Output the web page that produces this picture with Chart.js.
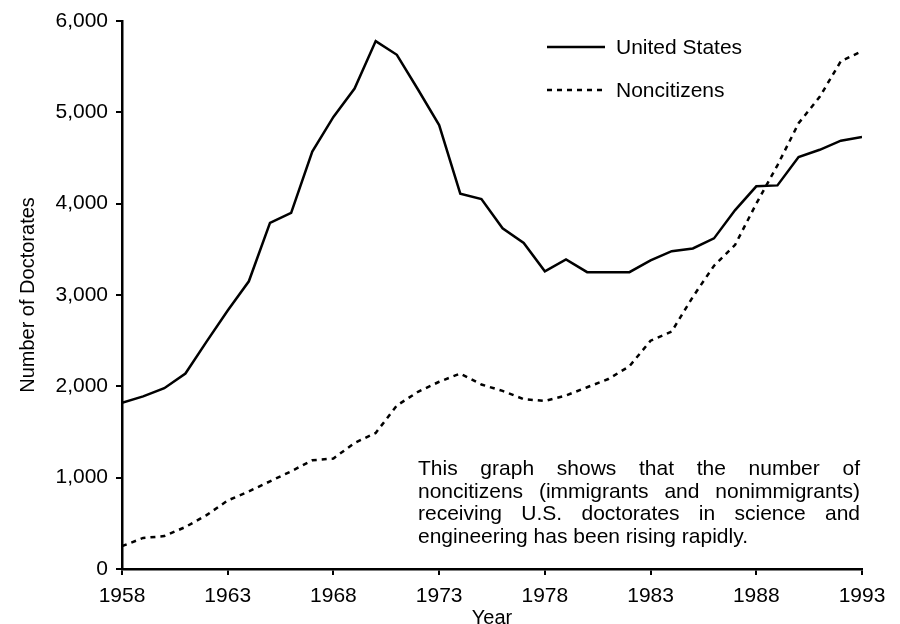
<!DOCTYPE html>
<html>
<head>
<meta charset="utf-8">
<script src="https://cdn.jsdelivr.net/npm/chart.js@4.4.0/dist/chart.umd.min.js"></script>
<style>
  html, body { margin: 0; padding: 0; background: #fff; }
  #wrap { width: 900px; height: 624px; }
</style>
</head>
<body>
<div id="wrap"><canvas id="chart" width="900" height="624"></canvas></div>
<script>
// データ
const years = [
  1958, 1959, 1960, 1961, 1962, 1963, 1964, 1965, 1966, 1967, 1968, 1969,
  1970, 1971, 1972, 1973, 1974, 1975, 1976, 1977, 1978, 1979, 1980, 1981,
  1982, 1983, 1984, 1985, 1986, 1987, 1988, 1989, 1990, 1991, 1992, 1993
];
const unitedStates = [
  1820, 1890, 1980, 2140, 2490, 2830, 3150, 3790, 3900, 4570, 4950, 5260,
  5780, 5630, 5250, 4860, 4110, 4050, 3730, 3570, 3260, 3390, 3250, 3250,
  3250, 3380, 3480, 3510, 3620, 3930, 4190, 4200, 4510, 4590, 4690, 4730
];
const noncitizens = [
  250, 340, 360, 460, 590, 750, 850, 960, 1070, 1190, 1210, 1380,
  1490, 1790, 1940, 2050, 2140, 2020, 1950, 1860, 1840, 1900, 1990, 2080,
  2220, 2500, 2600, 2980, 3320, 3550, 4000, 4420, 4880, 5170, 5560, 5670
];
const yTicks = [0, 1000, 2000, 3000, 4000, 5000, 6000];
const xTicks = [1958, 1963, 1968, 1973, 1978, 1983, 1988, 1993];
const noteLines = [
  "This graph shows that the number of",
  "noncitizens (immigrants and nonimmigrants)",
  "receiving U.S. doctorates in science and",
  "engineering has been rising rapidly."
];

const FONT = "'Liberation Sans', Arial, Helvetica, sans-serif";

// 凡例（右上に手描き）
const legendPlugin = {
  id: "customLegend",
  afterDraw(chart) {
    const ctx = chart.ctx;
    ctx.save();
    ctx.font = "21px " + FONT;
    ctx.fillStyle = "#000";
    ctx.textBaseline = "middle";
    chart.data.datasets.forEach((ds, i) => {
      const y = 47 + i * 43;
      ctx.beginPath();
      ctx.lineWidth = ds.borderWidth;
      ctx.strokeStyle = ds.borderColor;
      ctx.setLineDash(ds.borderDash || []);
      ctx.moveTo(547, y);
      ctx.lineTo(605, y);
      ctx.stroke();
      ctx.setLineDash([]);
      ctx.fillText(ds.label, 616, y + 1);
    });
    ctx.restore();
  },
};

// 注釈テキスト（両端揃え）
const notePlugin = {
  id: "note",
  afterDraw(chart) {
    const ctx = chart.ctx;
    const left = 418, right = 860;
    ctx.save();
    ctx.font = "21px " + FONT;
    ctx.fillStyle = "#000";
    ctx.textBaseline = "alphabetic";
    noteLines.forEach((line, i) => {
      const y = 475 + i * 22.5;
      const words = line.split(" ");
      if (i === noteLines.length - 1) {
        ctx.fillText(line, left, y);
        return;
      }
      const wordsWidth = words.reduce((s, w) => s + ctx.measureText(w).width, 0);
      const gap = (right - left - wordsWidth) / (words.length - 1);
      let x = left;
      words.forEach((w) => {
        ctx.fillText(w, x, y);
        x += ctx.measureText(w).width + gap;
      });
    });
    ctx.restore();
  },
};

const ctx = document.getElementById("chart").getContext("2d");
new Chart(ctx, {
  type: "line",
  data: {
    datasets: [
      {
        label: "United States",
        data: years.map((yr, i) => ({ x: yr, y: unitedStates[i] })),
        borderColor: "#000",
        borderWidth: 2.5,
        pointRadius: 0,
        tension: 0,
        fill: false,
      },
      {
        label: "Noncitizens",
        data: years.map((yr, i) => ({ x: yr, y: noncitizens[i] })),
        borderColor: "#000",
        borderWidth: 2.5,
        borderDash: [5, 5],
        pointRadius: 0,
        tension: 0,
        fill: false,
      },
    ],
  },
  options: {
    responsive: false,
    animation: false,
    layout: { padding: { left: 0, top: 21, right: 38, bottom: 0 } },
    plugins: {
      legend: { display: false },
      tooltip: { enabled: false },
    },
    scales: {
      x: {
        type: "linear",
        min: 1958,
        max: 1993,
        afterBuildTicks: (scale) => {
          scale.ticks = xTicks.map((v) => ({ value: v }));
        },
        afterFit: (scale) => { scale.height = 55; },
        border: { display: true, color: "#000", width: 2.5 },
        grid: { drawOnChartArea: false, drawTicks: true, tickLength: 6, color: "#000", lineWidth: 2 },
        ticks: {
          color: "#000",
          font: { family: FONT, size: 21 },
          padding: 9,
          maxRotation: 0,
          autoSkip: false,
          callback: (v) => String(v),
        },
        title: {
          display: true,
          text: "Year",
          color: "#000",
          font: { family: FONT, size: 20 },
          padding: { top: 0, bottom: -6 },
        },
      },
      y: {
        min: 0,
        max: 6000,
        afterBuildTicks: (scale) => {
          scale.ticks = yTicks.map((v) => ({ value: v }));
        },
        afterFit: (scale) => { scale.width = 122; },
        border: { display: true, color: "#000", width: 2.5 },
        grid: { drawOnChartArea: false, drawTicks: true, tickLength: 6, color: "#000", lineWidth: 2 },
        ticks: {
          color: "#000",
          font: { family: FONT, size: 21 },
          padding: 8,
          callback: (v) => v.toLocaleString("en-US"),
        },
        title: {
          display: true,
          text: "Number of Doctorates",
          color: "#000",
          font: { family: FONT, size: 20 },
          padding: { top: 16, bottom: 0 },
        },
      },
    },
  },
  plugins: [legendPlugin, notePlugin],
});
</script>
</body>
</html>
